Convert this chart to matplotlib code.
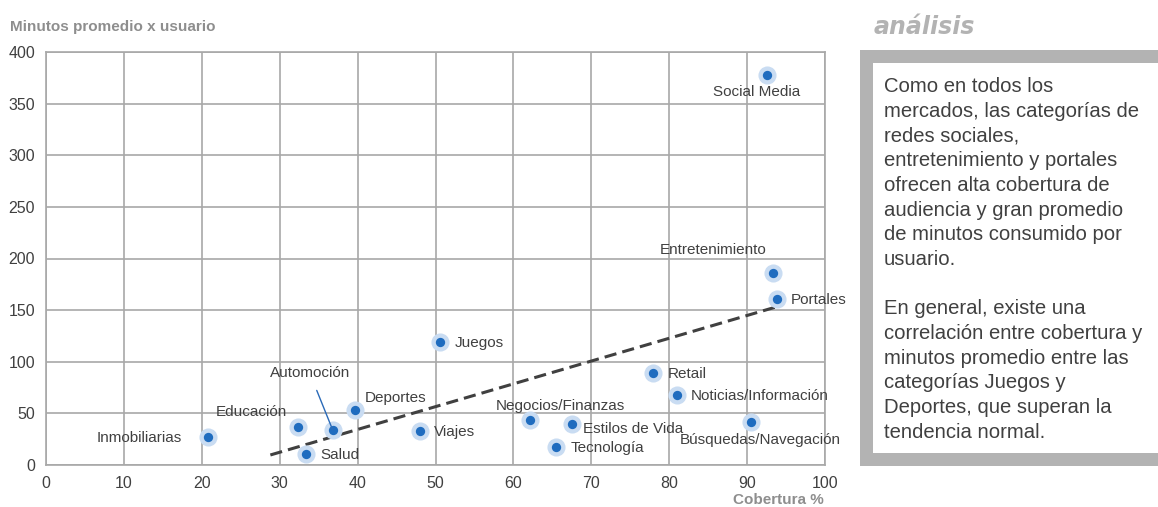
import numpy as np
import matplotlib.pyplot as plt
from matplotlib.patches import Rectangle

# categorias: cobertura (%) vs minutos promedio por usuario
categorias = ["Social Media", "Entretenimiento", "Portales", "Juegos", "Retail",
              "Noticias/Información", "Búsquedas/Navegación", "Negocios/Finanzas",
              "Estilos de Vida", "Tecnología", "Viajes", "Deportes", "Automoción",
              "Educación", "Salud", "Inmobiliarias"]
cobertura = [92.6, 93.3, 93.8, 50.6, 77.9, 81.0, 90.5, 62.1,
             67.5, 65.5, 48.0, 39.7, 36.8, 32.3, 33.4, 20.8]
minutos = [378, 186, 161, 119, 89, 68, 42, 44,
           40, 17, 33, 53, 34, 37, 11, 27]

# linea de tendencia (extremos)
tend_x = [28.8, 93.7]
tend_y = [9.7, 153]

x_ticks = [0, 10, 20, 30, 40, 50, 60, 70, 80, 90, 100]
y_ticks = [0, 50, 100, 150, 200, 250, 300, 350, 400]

texto = ("Como en todos los\nmercados, las categorías de\nredes sociales,\n"
         "entretenimiento y portales\nofrecen alta cobertura de\n"
         "audiencia y gran promedio\nde minutos consumido por\nusuario.\n\n"
         "En general, existe una\ncorrelación entre cobertura y\n"
         "minutos promedio entre las\ncategorías Juegos y\n"
         "Deportes, que superan la\ntendencia normal.")

# desplazamiento de cada etiqueta en pixeles y alineacion
offsets = {
    "Social Media": (-11, -17, "center"),
    "Entretenimiento": (-60, 23, "center"),
    "Portales": (14, -1, "left"),
    "Juegos": (15, -1, "left"),
    "Retail": (15, -1, "left"),
    "Noticias/Información": (14, -1, "left"),
    "Búsquedas/Navegación": (9, -18, "center"),
    "Negocios/Finanzas": (31, 14, "center"),
    "Estilos de Vida": (11, -5, "left"),
    "Tecnología": (14, -1, "left"),
    "Viajes": (14, -1, "left"),
    "Deportes": (9, 12, "left"),
    "Automoción": (-23, 57, "center"),
    "Educación": (-46, 15, "center"),
    "Salud": (14, -1, "left"),
    "Inmobiliarias": (-26, -1, "right"),
}

plt.rcParams['font.family'] = ['Liberation Sans', 'DejaVu Sans']

fig = plt.figure(figsize=(11.58, 5.07), dpi=100)
ax = fig.add_axes([46/1158, 1-465/507, (825-46)/1158, (465-52)/507])

ax.set_xlim(0, 100)
ax.set_ylim(0, 400)
ax.set_xticks(x_ticks)
ax.set_yticks(y_ticks)
ax.grid(True, color="#a8a8a8", linewidth=1.2)
ax.set_axisbelow(True)
for s in ax.spines.values():
    s.set_color("#a8a8a8")
    s.set_linewidth(1.2)
ax.tick_params(length=0, labelsize=11.5, colors="#404040", pad=8)

ax.plot(tend_x, tend_y, "--", color="#404040", linewidth=2.2, dashes=(4, 2))

ax.scatter(cobertura, minutos, s=170, color="#c9dcf2", zorder=3, linewidths=0)
ax.scatter(cobertura, minutos, s=45, color="#1f6cbf", zorder=4, linewidths=0)

for nombre, cx, cy in zip(categorias, cobertura, minutos):
    dx, dy, ha = offsets[nombre]
    if nombre == "Automoción":
        ax.annotate(nombre, (cx, cy), xytext=(dx, dy), textcoords="offset pixels",
                    ha=ha, va="center", fontsize=11, color="#404040", zorder=5,
                    arrowprops=dict(arrowstyle="-", color="#2a6ab8", lw=1,
                                    shrinkA=6, shrinkB=0))
    else:
        ax.annotate(nombre, (cx, cy), xytext=(dx, dy), textcoords="offset pixels",
                    ha=ha, va="center", fontsize=11, color="#404040", zorder=5)

fig.text(10/1158, 1-27/507, "Minutos promedio x usuario", fontsize=11,
         fontweight="bold", color="#8e8e8e", va="center", ha="left")
fig.text(824/1158, 1-500/507, "Cobertura %", fontsize=11,
         fontweight="bold", color="#8e8e8e", va="center", ha="right")

# panel de analisis
fig.text(874/1158, 1-27/507, "análisis", fontsize=17, fontweight="bold",
         fontstyle="italic", color="#b3b3b3", va="center", ha="left",
         family="DejaVu Sans")
fig.patches.append(Rectangle((860/1158, 1-466/507), 320/1158, (466-50)/507,
                             transform=fig.transFigure, facecolor="#b3b3b3",
                             edgecolor="none"))
fig.patches.append(Rectangle((873/1158, 1-453/507), 300/1158, (453-63)/507,
                             transform=fig.transFigure, facecolor="white",
                             edgecolor="none"))
fig.text(884/1158, 1-77/507, texto, fontsize=14.6, color="#404040",
         va="top", ha="left", linespacing=1.38)

fig.savefig("out.png", dpi=100)
